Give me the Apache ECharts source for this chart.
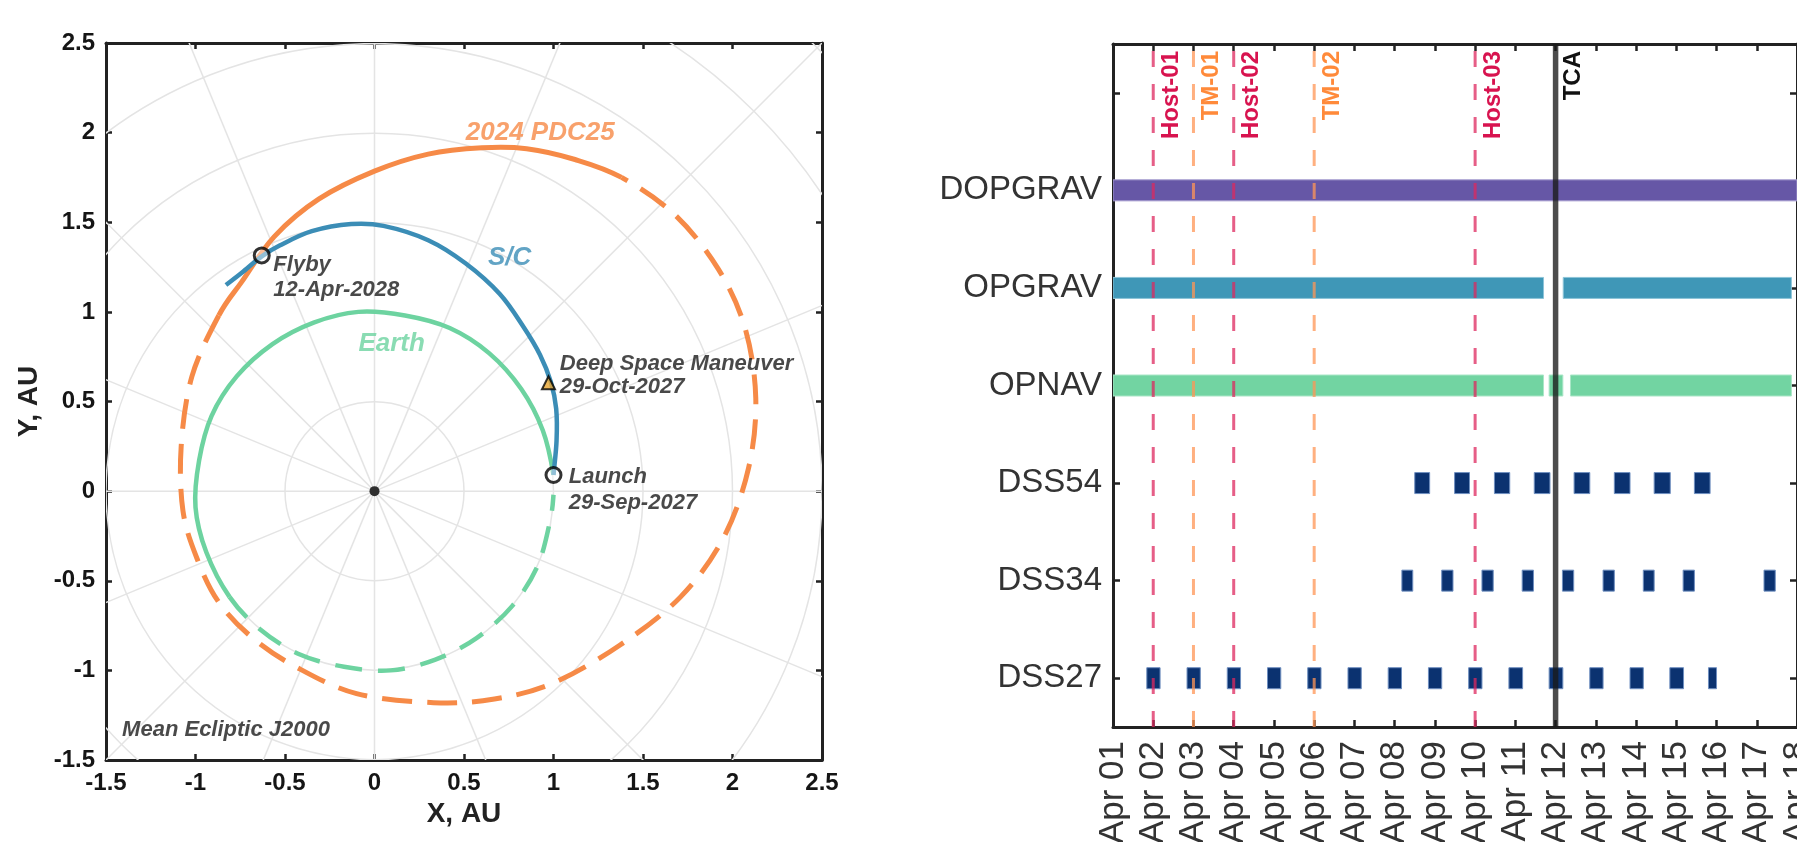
<!DOCTYPE html>
<html><head><meta charset="utf-8">
<script src="https://cdn.jsdelivr.net/npm/echarts@6/dist/echarts.min.js"></script>
<style>html,body{margin:0;padding:0;background:#fff;overflow:hidden}#c{width:1797px;height:842px}</style>
</head><body><div id="c"></div>
<script>
// ================= LEFT PANEL (heliocentric, AU) =================
const auTicks = [-1.5, -1, -0.5, 0, 0.5, 1, 1.5, 2, 2.5];
const gridRadii = [0.5, 1, 1.5, 2, 2.5, 3, 3.5];
const gridSpokeAngles = [0, 22.5, 45, 67.5, 90, 112.5, 135, 157.5, 180, 202.5, 225, 247.5, 270, 292.5, 315, 337.5];

const earthSolid = [[1.00,0.09],[0.94,0.34],[0.82,0.57],[0.64,0.77],[0.42,0.91],[0.17,0.98],[-0.09,1.00],[-0.34,0.94],[-0.57,0.82],[-0.77,0.64],[-0.91,0.42],[-0.98,0.17],[-1.00,-0.09],[-0.94,-0.34],[-0.81,-0.59]];
const earthDashed = [[-0.81,-0.59],[-0.64,-0.77],[-0.42,-0.91],[-0.17,-0.98],[0.09,-1.00],[0.34,-0.94],[0.57,-0.82],[0.77,-0.64],[0.91,-0.42],[0.98,-0.17],[1.00,-0.02]];
const pdcSolid = [[1.38,1.75],[1.12,1.85],[0.85,1.91],[0.60,1.915],[0.30,1.88],[0.00,1.785],[-0.31,1.63],[-0.56,1.42],[-0.74,1.17],[-0.87,0.98]];
const pdcDashed = [[-0.87,0.98],[-1.02,0.64],[-1.08,0.25],[-1.07,-0.11],[-0.99,-0.38],[-0.87,-0.62],[-0.68,-0.82],[-0.44,-0.98],[-0.10,-1.13],[0.33,-1.18],[0.67,-1.16],[1.00,-1.07],[1.37,-0.86],[1.71,-0.59],[1.95,-0.26],[2.09,0.13],[2.13,0.52],[2.07,0.91],[1.92,1.24],[1.68,1.54],[1.38,1.75]];
const scPath = [[1.00,0.09],[1.017,0.28],[1.015,0.46],[0.985,0.61],[0.925,0.76],[0.83,0.92],[0.70,1.10],[0.51,1.27],[0.30,1.40],[0.05,1.48],[-0.13,1.49],[-0.35,1.45],[-0.53,1.37],[-0.63,1.31],[-0.74,1.22],[-0.83,1.15]];
const sunPoint = [[0, 0]];
const launchPoint = [[1.00, 0.09]];
const flybyPoint = [[-0.63, 1.315]];
const dsmPoint = [[0.972, 0.605]];

const annotations = [
  {text: '2024 PDC25', at: [0.51, 2.0], kind: 'pdc'},
  {text: 'S/C', at: [0.634, 1.30], kind: 'sc'},
  {text: 'Earth', at: [-0.09, 0.82], kind: 'earth'},
  {text: 'Flyby\n12-Apr-2028', at: [-0.565, 1.19], kind: 'note', lh: 25},
  {text: 'Deep Space Maneuver\n29-Oct-2027', at: [1.035, 0.644], kind: 'note', lh: 23},
  {text: 'Launch\n29-Sep-2027', at: [1.085, 0.006], kind: 'note', lh: 26},
  {text: 'Mean Ecliptic J2000', at: [-1.41, -1.335], kind: 'note', lh: 24}
];

// ================= RIGHT PANEL (timeline, day of April) =================
const rowNames = ['DSS27', 'DSS34', 'DSS54', 'OPNAV', 'OPGRAV', 'DOPGRAV', ''];
const dayTickLabels = ['Apr 01','Apr 02','Apr 03','Apr 04','Apr 05','Apr 06','Apr 07','Apr 08','Apr 09','Apr 10','Apr 11','Apr 12','Apr 13','Apr 14','Apr 15','Apr 16','Apr 17','Apr 18'];
const DOPGRAV = [[1, 18]];
const OPGRAV = [[1, 11.70], [12.19, 17.86]];
const OPNAV = [[1, 11.70], [11.84, 12.18], [12.37, 17.86]];
const DSS54 = [[8.50,8.87],[9.49,9.86],[10.48,10.86],[11.47,11.86],[12.46,12.85],[13.46,13.85],[14.45,14.85],[15.45,15.84]];
const DSS34 = [[8.18,8.45],[9.17,9.45],[10.17,10.45],[11.17,11.45],[12.17,12.45],[13.18,13.46],[14.18,14.45],[15.17,15.45],[17.18,17.46]];
const DSS27 = [[1.84,2.17],[2.84,3.17],[3.84,4.17],[4.84,5.17],[5.84,6.17],[6.84,7.17],[7.84,8.17],[8.84,9.17],[9.84,10.17],[10.84,11.18],[11.84,12.18],[12.85,13.18],[13.85,14.18],[14.84,15.18],[15.80,16.00]];
const eventDays = [2, 3, 4, 6, 10, 12];
const eventNames = ['Host-01', 'TM-01', 'Host-02', 'TM-02', 'Host-03', 'TCA'];
const eventKinds = ['host', 'tm', 'host', 'tm', 'host', 'tca'];

// ================= STYLES =================
const FONT = '"Liberation Sans", Arial, Helvetica, sans-serif';
const C_PDC = '#F68A47', C_SC = '#3B8DB6', C_EARTH = '#6DD3A0';
const rowFill = ['#0B3270', '#0B3270', '#0B3270', '#72D4A2', '#3F97B7', '#6657A6', '#000'];
const rowStroke = ['#6f8fc0', '#6f8fc0', '#6f8fc0', '#a9e6c6', '#8cc4d8', '#a49bcf', '#000'];
const evStyle = {
  host: {stroke: 'rgba(222,40,95,0.75)', width: 3, dash: [16, 17], text: '#D8134F'},
  tm:   {stroke: 'rgba(255,150,85,0.75)', width: 3, dash: [16, 17], text: '#FF8A3A'},
  tca:  {stroke: 'rgba(25,25,25,0.78)', width: 5.5, dash: null, text: '#111'}
};
const annStyle = {
  pdc:   {color: C_PDC, size: 26},
  sc:    {color: C_SC, size: 26},
  earth: {color: C_EARTH, size: 26},
  note:  {color: '#1c1c1c', size: 22}
};

const barData = [];
[DSS27, DSS34, DSS54, OPNAV, OPGRAV, DOPGRAV].forEach((list, row) => {
  list.forEach(iv => barData.push([iv[0], iv[1], row]));
});

function clipRect(cs) { return {type: 'rect', shape: {x: cs.x, y: cs.y, width: cs.width, height: cs.height}}; }

// smooth curve through the data points (Catmull-Rom drawn as cubic Beziers), mapped through the axes
function curveSeries(points, before, after, color, width, dash, z) {
  return {
    type: 'custom', xAxisIndex: 0, yAxisIndex: 0, z: z, silent: true, data: points,
    renderItem: (params, api) => {
      if (params.dataIndex !== 0) return null;
      const pts = points.map(p => api.coord(p));
      const n = pts.length;
      const pre = before ? api.coord(before) : [2 * pts[0][0] - pts[1][0], 2 * pts[0][1] - pts[1][1]];
      const post = after ? api.coord(after) : [2 * pts[n - 1][0] - pts[n - 2][0], 2 * pts[n - 1][1] - pts[n - 2][1]];
      const all = [pre].concat(pts, [post]);
      let d = 'M' + pts[0][0] + ',' + pts[0][1];
      for (let i = 1; i < all.length - 2; i++) {
        const p0 = all[i - 1], p1 = all[i], p2 = all[i + 1], p3 = all[i + 2];
        const c1x = p1[0] + (p2[0] - p0[0]) / 6, c1y = p1[1] + (p2[1] - p0[1]) / 6;
        const c2x = p2[0] - (p3[0] - p1[0]) / 6, c2y = p2[1] - (p3[1] - p1[1]) / 6;
        d += ' C' + c1x + ',' + c1y + ' ' + c2x + ',' + c2y + ' ' + p2[0] + ',' + p2[1];
      }
      return {type: 'path', shape: {pathData: d},
        style: {fill: 'none', stroke: color, lineWidth: width, lineDash: dash, lineCap: 'butt', lineJoin: 'round'}};
    }
  };
}

const axisLineStyle = {color: '#222', width: 3};
const tickStyle = {color: '#222', width: 2.5};

const chart = echarts.init(document.getElementById('c'), null, {renderer: 'canvas', width: 1797, height: 842});
chart.setOption({
  backgroundColor: '#fff',
  animation: false,
  grid: [
    {left: 106, top: 43, width: 716, height: 717, containLabel: false, outerBoundsMode: 'none'},
    {left: 1113, top: 44, width: 684, height: 683, containLabel: false, outerBoundsMode: 'none'}
  ],
  xAxis: [
    {gridIndex: 0, type: 'value', min: -1.5, max: 2.5, interval: 0.5, position: 'bottom',
     axisLine: {show: true, onZero: false, lineStyle: axisLineStyle},
     axisTick: {show: true, inside: true, length: 6, lineStyle: tickStyle},
     axisLabel: {fontSize: 24, fontWeight: 'bold', color: '#151515', margin: 11, fontFamily: FONT},
     splitLine: {show: false},
     name: 'X, AU', nameLocation: 'middle', nameGap: 40,
     nameTextStyle: {fontSize: 28, fontWeight: 'bold', color: '#222', fontFamily: FONT}},
    {gridIndex: 0, type: 'value', min: -1.5, max: 2.5, interval: 0.5, position: 'top',
     axisLine: {show: true, onZero: false, lineStyle: axisLineStyle},
     axisTick: {show: true, inside: true, length: 6, lineStyle: tickStyle},
     axisLabel: {show: false}, splitLine: {show: false}},
    {gridIndex: 1, type: 'value', min: 1, max: 18, interval: 1, position: 'bottom',
     axisLine: {show: true, onZero: false, lineStyle: axisLineStyle},
     axisTick: {show: true, inside: true, length: 7, lineStyle: tickStyle},
     axisLabel: {rotate: 90, fontSize: 35, color: '#333', margin: 14, fontFamily: FONT,
       showMinLabel: true, showMaxLabel: true, hideOverlap: false,
       formatter: v => dayTickLabels[Math.round(v) - 1] || ''},
     splitLine: {show: false}},
    {gridIndex: 1, type: 'value', min: 1, max: 18, interval: 1, position: 'top',
     axisLine: {show: true, onZero: false, lineStyle: axisLineStyle},
     axisTick: {show: true, inside: true, length: 7, lineStyle: tickStyle},
     axisLabel: {show: false}, splitLine: {show: false}}
  ],
  yAxis: [
    {gridIndex: 0, type: 'value', min: -1.5, max: 2.5, interval: 0.5, position: 'left',
     axisLine: {show: true, onZero: false, lineStyle: axisLineStyle},
     axisTick: {show: true, inside: true, length: 6, lineStyle: tickStyle},
     axisLabel: {fontSize: 24, fontWeight: 'bold', color: '#151515', margin: 11, fontFamily: FONT},
     splitLine: {show: false},
     name: 'Y, AU', nameLocation: 'middle', nameGap: 63, nameRotate: 90,
     nameTextStyle: {fontSize: 28, fontWeight: 'bold', color: '#222', fontFamily: FONT}},
    {gridIndex: 0, type: 'value', min: -1.5, max: 2.5, interval: 0.5, position: 'right',
     axisLine: {show: true, onZero: false, lineStyle: axisLineStyle},
     axisTick: {show: true, inside: true, length: 6, lineStyle: tickStyle},
     axisLabel: {show: false}, splitLine: {show: false}},
    {gridIndex: 1, type: 'category', data: rowNames, position: 'left', boundaryGap: true,
     axisLine: {show: true, onZero: false, lineStyle: axisLineStyle},
     axisTick: {show: true, inside: true, length: 7, alignWithLabel: true, interval: 0, lineStyle: tickStyle},
     axisLabel: {fontSize: 33, color: '#333', margin: 11, fontFamily: FONT, interval: 0},
     splitLine: {show: false}},
    {gridIndex: 1, type: 'category', data: rowNames, position: 'right', boundaryGap: true,
     axisLine: {show: true, onZero: false, lineStyle: axisLineStyle},
     axisTick: {show: true, inside: true, length: 7, alignWithLabel: true, interval: 0, lineStyle: tickStyle},
     axisLabel: {show: false}, splitLine: {show: false}}
  ],
  series: [
    // polar reference grid: circles
    {type: 'custom', xAxisIndex: 0, yAxisIndex: 0, silent: true, z: 1,
     data: gridRadii.map(r => [r, 0]),
     renderItem: (params, api) => {
       const c = api.coord([0, 0]);
       const r = api.size([api.value(0), 0])[0];
       return {type: 'group', clipPath: clipRect(params.coordSys), children: [
         {type: 'circle', shape: {cx: c[0], cy: c[1], r: r}, style: {fill: 'none', stroke: '#e4e4e4', lineWidth: 1.5}}
       ]};
     }},
    // polar reference grid: spokes
    {type: 'custom', xAxisIndex: 0, yAxisIndex: 0, silent: true, z: 1,
     data: gridSpokeAngles.map(a => [a, 0]),
     renderItem: (params, api) => {
       const a = api.value(0) * Math.PI / 180;
       const p0 = api.coord([0, 0]);
       const p1 = api.coord([3.6 * Math.cos(a), 3.6 * Math.sin(a)]);
       return {type: 'group', clipPath: clipRect(params.coordSys), children: [
         {type: 'line', shape: {x1: p0[0], y1: p0[1], x2: p1[0], y2: p1[1]}, style: {stroke: '#e4e4e4', lineWidth: 1.5}}
       ]};
     }},
    curveSeries(earthDashed, earthSolid[earthSolid.length - 2], earthSolid[0], C_EARTH, 4.5, [27, 16], 3),
    curveSeries(earthSolid, earthDashed[earthDashed.length - 1], earthDashed[1], C_EARTH, 4.5, null, 3),
    curveSeries(pdcDashed, pdcSolid[pdcSolid.length - 2], pdcSolid[1], C_PDC, 5, [30, 15], 4),
    curveSeries(pdcSolid, pdcDashed[pdcDashed.length - 2], pdcDashed[1], C_PDC, 5, null, 4),
    curveSeries(scPath, null, null, C_SC, 4.5, null, 5),
    {type: 'scatter', xAxisIndex: 0, yAxisIndex: 0, data: sunPoint, symbol: 'circle', symbolSize: 10, z: 6,
     itemStyle: {color: '#000'}},
    {type: 'scatter', xAxisIndex: 0, yAxisIndex: 0, data: launchPoint.concat(flybyPoint), symbol: 'circle', symbolSize: 15, z: 6,
     itemStyle: {color: 'rgba(255,255,255,0.55)', borderColor: '#000', borderWidth: 3}},
    {type: 'scatter', xAxisIndex: 0, yAxisIndex: 0, data: dsmPoint, symbol: 'triangle', symbolSize: 13, z: 6,
     itemStyle: {color: '#E9A531', borderColor: '#000', borderWidth: 2}},
    {type: 'scatter', xAxisIndex: 0, yAxisIndex: 0, symbolSize: 0, z: 7, silent: true,
     data: annotations.map(a => ({
       value: a.at,
       label: {show: true, position: 'right', distance: 0, formatter: a.text, align: 'left',
         color: annStyle[a.kind].color, fontSize: annStyle[a.kind].size, fontWeight: 'bold', fontStyle: 'italic',
         fontFamily: FONT, lineHeight: a.lh || 30}
     }))},
    // ---- right panel: coverage bars ----
    {type: 'custom', xAxisIndex: 2, yAxisIndex: 2, z: 3, silent: true,
     encode: {x: [0, 1], y: 2},
     data: barData,
     renderItem: (params, api) => {
       const row = api.value(2);
       const s = api.coord([api.value(0), row]);
       const e = api.coord([api.value(1), row]);
       const h = 21;
       return {type: 'group', clipPath: clipRect(params.coordSys), children: [
         {type: 'rect', shape: {x: s[0], y: s[1] - h / 2, width: e[0] - s[0], height: h},
          style: {fill: rowFill[row], stroke: rowStroke[row], lineWidth: 1}}
       ]};
     }},
    // ---- right panel: events ----
    {type: 'custom', xAxisIndex: 2, yAxisIndex: 2, z: 5, silent: true,
     encode: {x: 0, y: 1},
     data: eventDays.map(d => [d, 0]),
     renderItem: (params, api) => {
       const cs = params.coordSys;
       const x = api.coord([api.value(0), 0])[0];
       const st = evStyle[eventKinds[params.dataIndex]];
       const lineEl = {type: 'line', shape: {x1: x, y1: cs.y + cs.height, x2: x, y2: cs.y},
         style: {stroke: st.stroke, lineWidth: st.width, lineDash: st.dash}};
       const textEl = {type: 'text', x: x + 6, y: cs.y + 7, rotation: Math.PI / 2,
         style: {text: eventNames[params.dataIndex], fill: st.text, fontSize: 24, fontWeight: 'bold',
           fontFamily: FONT, align: 'right', verticalAlign: 'top'}};
       return {type: 'group', children: [lineEl, textEl]};
     }}
  ]
});
</script></body></html>
